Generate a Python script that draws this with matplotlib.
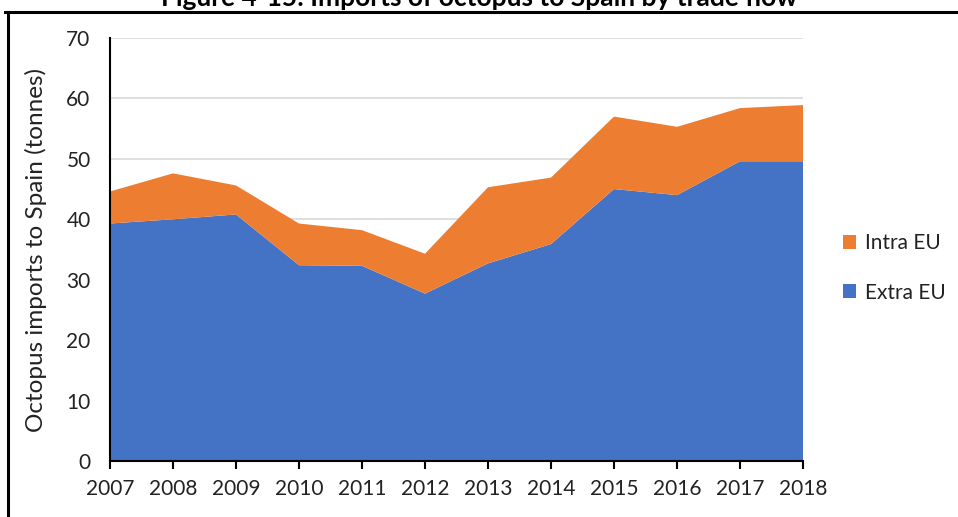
import matplotlib
matplotlib.use("Agg")
import matplotlib.pyplot as plt
from matplotlib.lines import Line2D
from matplotlib.patches import Patch

years = [2007, 2008, 2009, 2010, 2011, 2012, 2013, 2014, 2015, 2016, 2017, 2018]
extra_eu = [39.3, 40.0, 40.8, 32.4, 32.3, 27.7, 32.7, 35.9, 45.0, 44.0, 49.6, 49.6]
intra_eu = [5.3, 7.6, 4.8, 6.9, 5.9, 6.6, 12.6, 11.0, 12.0, 11.3, 8.8, 9.3]
y_ticks = [0, 10, 20, 30, 40, 50, 60, 70]
title = "Figure 4-15: Imports of octopus to Spain by trade flow"
ylabel = "Octopus imports to Spain (tonnes)"

plt.rcParams['font.family'] = ['Lato', 'DejaVu Sans']

fig = plt.figure(figsize=(9.58, 5.17), dpi=100)
ax = fig.add_axes([110/958, 1-461/517, (803-110)/958, (461-38)/517])

blue = '#4472C4'
orange = '#ED7D31'
ax.stackplot(years, extra_eu, intra_eu, colors=[blue, orange], linewidth=0, zorder=2)

ax.set_xlim(years[0], years[-1])
ax.set_ylim(0, 70)
ax.set_yticks(y_ticks)
ax.set_xticks(years)
ax.yaxis.grid(True, color='#d9d9d9', linewidth=1.2, zorder=0)
ax.set_axisbelow(True)
for s in ['top', 'right']:
    ax.spines[s].set_visible(False)
ax.spines['left'].set_color('black')
ax.spines['left'].set_linewidth(1.5)
ax.spines['bottom'].set_color('black')
ax.spines['bottom'].set_linewidth(1.5)
ax.spines['left'].set_zorder(3)
ax.spines['bottom'].set_zorder(3)
ax.tick_params(axis='y', length=0, pad=14, labelsize=15, labelcolor='#222222')
ax.tick_params(axis='x', length=6, width=1.5, direction='out', pad=7, labelsize=15, labelcolor='#222222')
ax.set_ylabel(ylabel, fontsize=17.5, color='#222222', labelpad=14)

handles = [Patch(facecolor=orange, edgecolor='none', label='Intra EU'),
           Patch(facecolor=blue, edgecolor='none', label='Extra EU')]
fig.legend(handles=handles, loc='center left', bbox_to_anchor=(824/958, 1-268/517),
           frameon=False, fontsize=15, handlelength=0.65, handleheight=0.65,
           labelspacing=1.4, handletextpad=0.4, labelcolor='#222222')

fig.text(0.5, 1-6/517, title, ha='center', va='baseline', fontsize=19, fontweight='bold')

fig.add_artist(Line2D([5/958, 1], [1-12/517, 1-12/517], color='black', linewidth=2.2))
fig.add_artist(Line2D([8/958, 8/958], [0, 1-12/517], color='black', linewidth=2.2))

fig.savefig('out.png', dpi=100)
